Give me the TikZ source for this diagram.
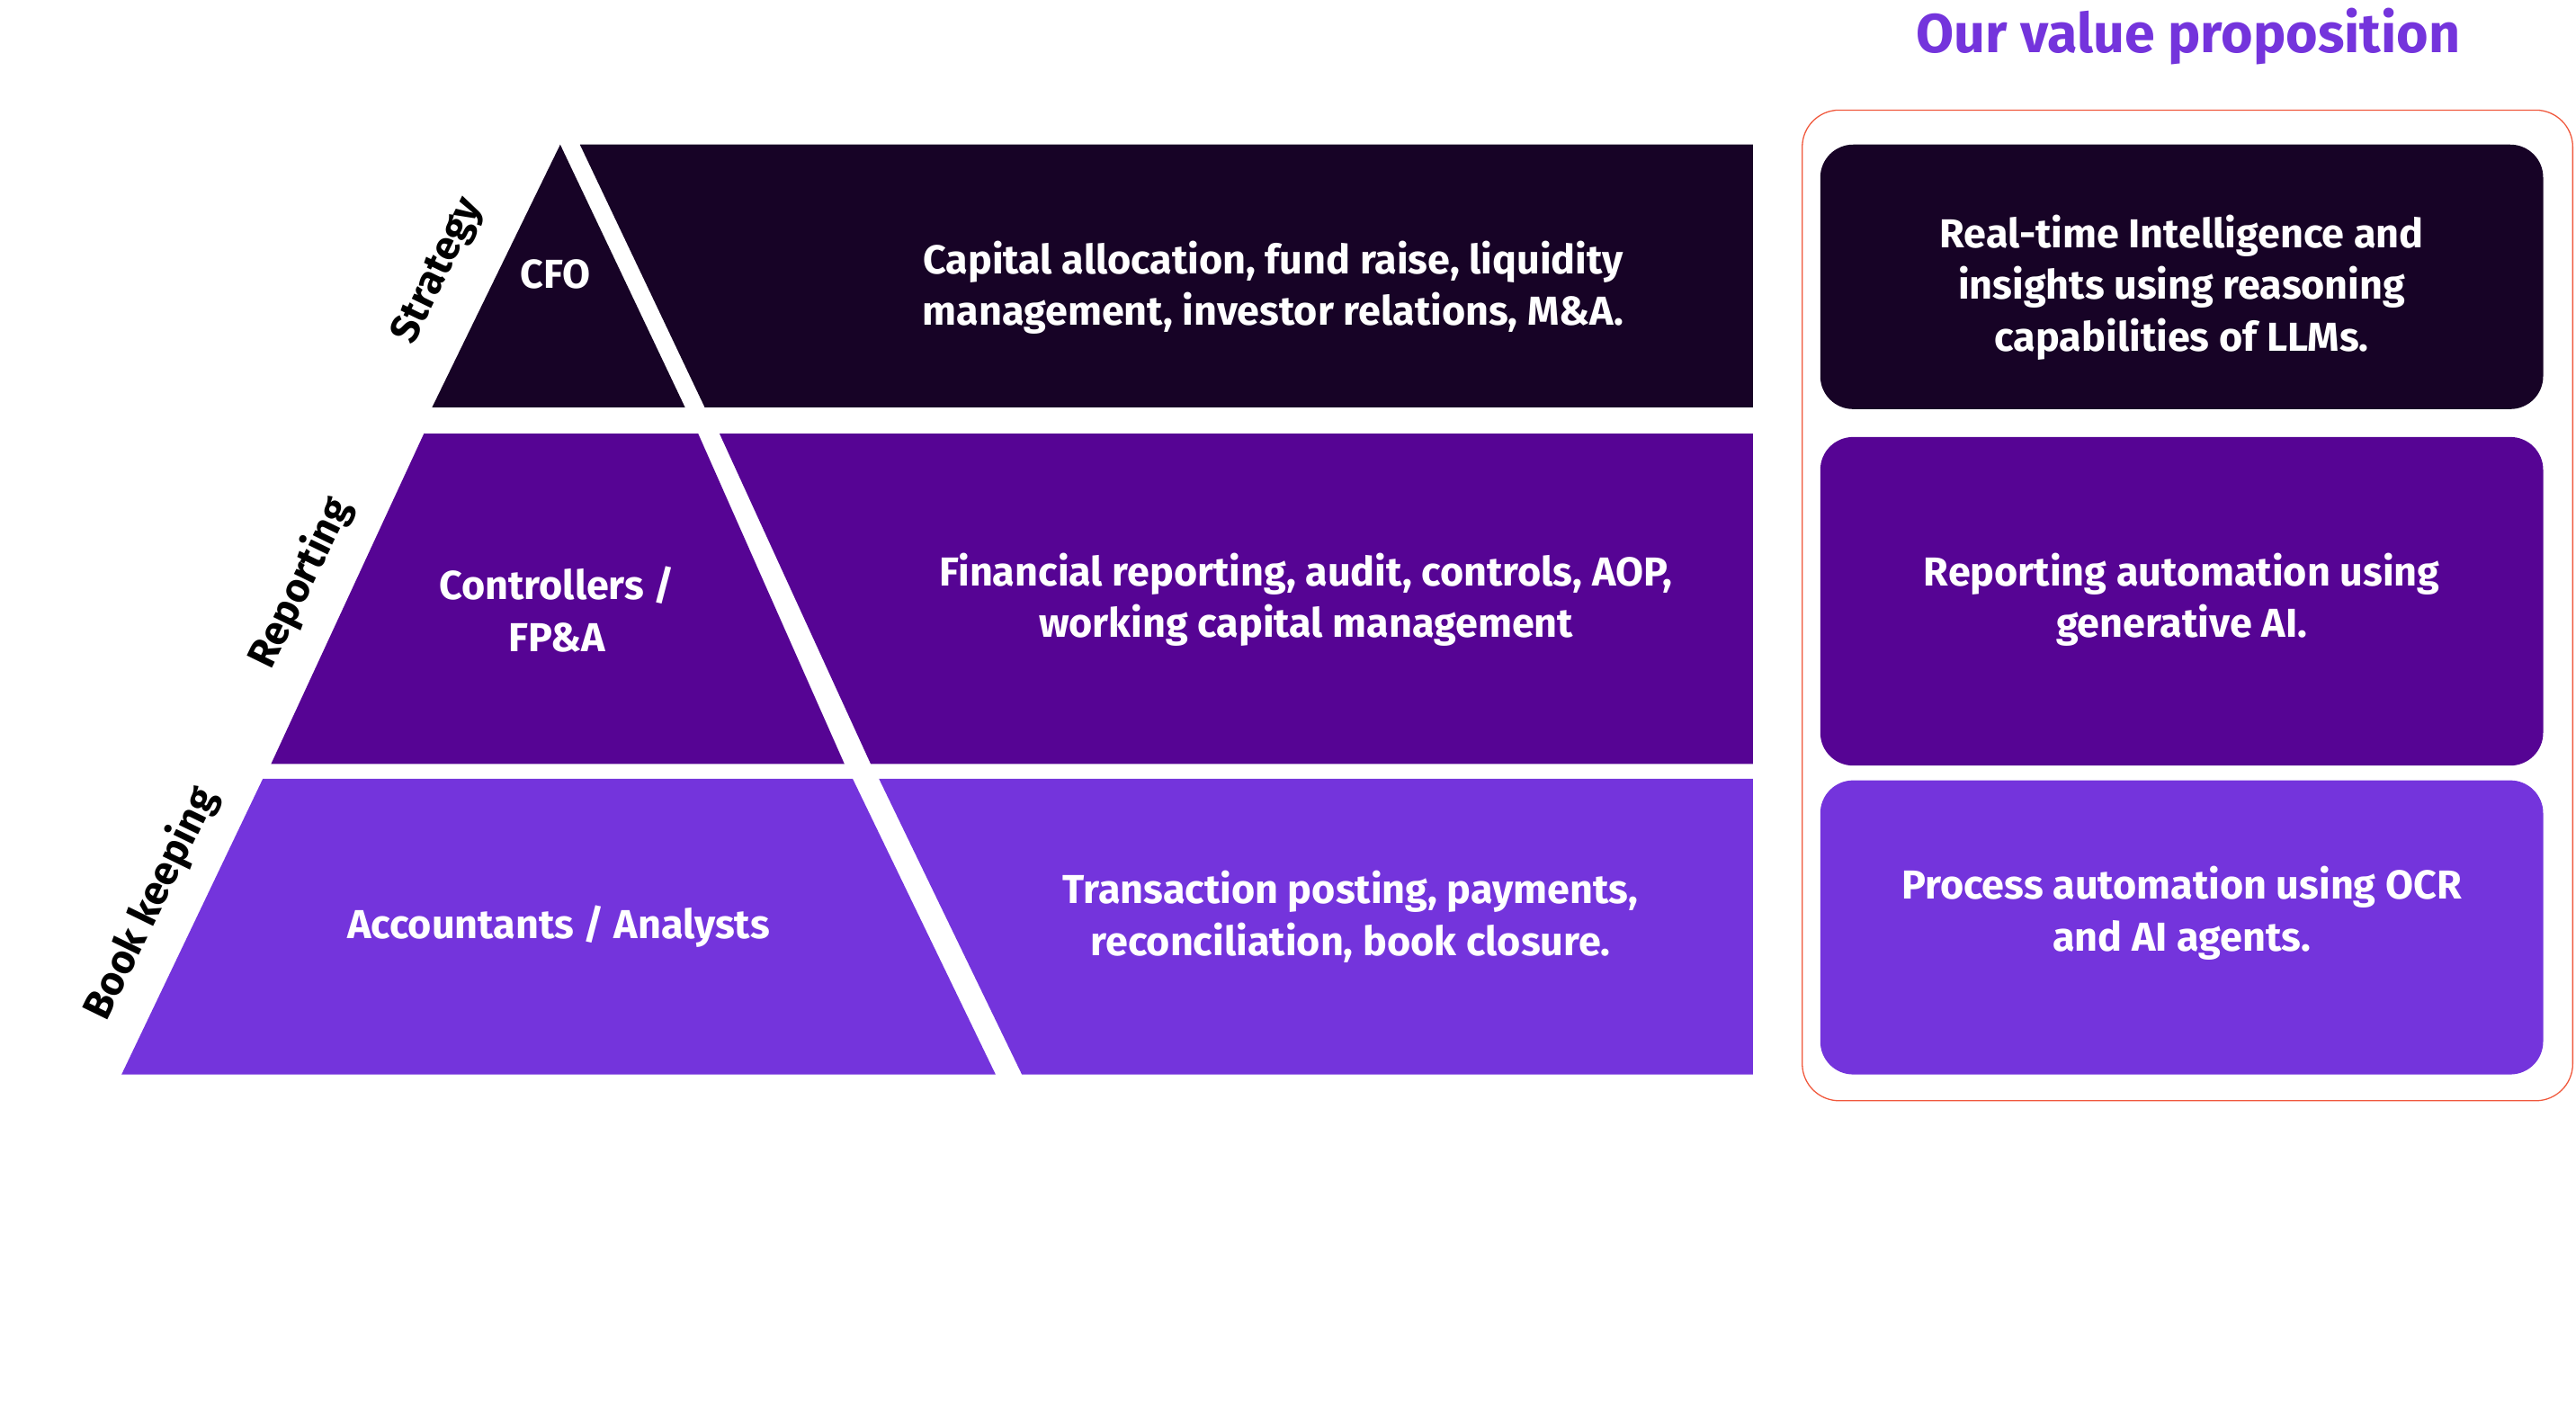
\documentclass[tikz,border=0pt]{standalone}
\usepackage{fontspec}
\setmainfont{Fira Sans}
\definecolor{darkplum}{HTML}{170326}
\definecolor{midpurple}{HTML}{560494}
\definecolor{lightpurple}{HTML}{7434DC}
\definecolor{frame}{HTML}{F0583C}
\tikzset{
  tiertext/.style={text=white,font=\fontsize{14}{18}\selectfont\bfseries,align=center},
  sidetext/.style={text=black,font=\fontsize{14}{18}\selectfont\bfseries,rotate=64},
  valuebox/.style={rounded corners=0.4cm}
}
\begin{document}
\begin{tikzpicture}[x=0.02cm,y=-0.02cm]
      \useasboundingbox (0,0) rectangle (1568,860);
      \def\r{1067};
      % top tier
      \fill[darkplum] (341,88) -- (417,248) -- (263,248) -- cycle;
      \fill[darkplum] (353,88) -- (\r,88) -- (\r,248) -- (429,248) -- cycle;
      % middle tier
      \fill[midpurple] (258,264) -- (425,264) -- (514,465) -- (165,465) -- cycle;
      \fill[midpurple] (438,264) -- (\r,264) -- (\r,465) -- (530,465) -- cycle;
      % bottom tier
      \fill[lightpurple] (160,474) -- (519,474) -- (606,654) -- (74,654) -- cycle;
      \fill[lightpurple] (535,474) -- (\r,474) -- (\r,654) -- (622,654) -- cycle;
      \node[tiertext] (cfo) at (338,167) {CFO};
      \node[tiertext] (ctrl) at (339,371) {Controllers /\\FP\&A};
      \node[tiertext] (acct) at (340,564) {Accountants / Analysts};
      \node[tiertext] (strattasks) at (775,175) {Capital allocation, fund raise, liquidity\\management, investor relations, M\&A.};
      \node[tiertext] (reptasks) at (795,365) {Financial reporting, audit, controls, AOP,\\working capital management};
      \node[tiertext] (booktasks) at (822,558) {Transaction posting, payments,\\reconciliation, book closure.};
      \node[sidetext] (strategy) at (267,165) {Strategy};
      \node[sidetext] (reporting) at (183,355) {Reporting};
      \node[sidetext] (bookkeeping) at (92,550) {Book keeping};
      % value proposition
      \node[text=lightpurple,font=\fontsize{19}{22}\selectfont\bfseries] (title) at (1332,22) {Our value proposition};
      \draw[frame,rounded corners=0.45cm] (1097,67) rectangle (1566,670);
      \fill[darkplum,valuebox] (1108,88) rectangle (1548,249);
      \fill[midpurple,valuebox] (1108,266) rectangle (1548,466);
      \fill[lightpurple,valuebox] (1108,475) rectangle (1548,654);
      \node[tiertext] (llm) at (1328,175) {Real-time Intelligence and\\insights using reasoning\\capabilities of LLMs.};
      \node[tiertext] (genai) at (1328,365) {Reporting automation using\\generative AI.};
      \node[tiertext] (ocr) at (1328,556) {Process automation using OCR\\and AI agents.};
\end{tikzpicture}
\end{document}
